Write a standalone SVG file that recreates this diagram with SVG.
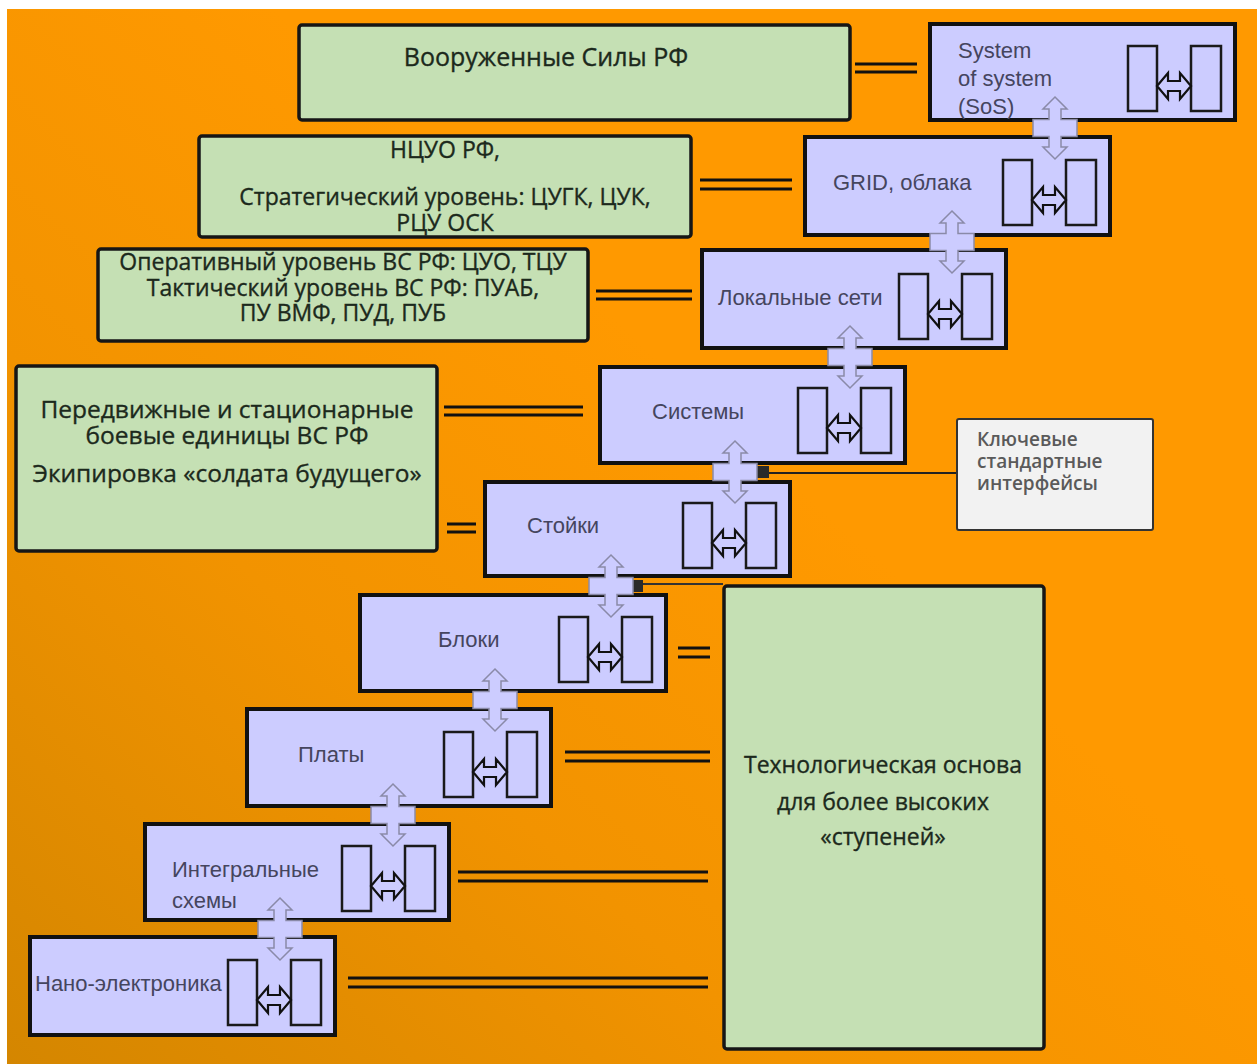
<svg xmlns="http://www.w3.org/2000/svg" xmlns:xlink="http://www.w3.org/1999/xlink" width="1257" height="1064" viewBox="0 0 1257 1064">
<style>
.pbox{fill:#CCCCFF;stroke:#111;stroke-width:4}
.inner{fill:#CCCCFF;stroke:#1a1a1a;stroke-width:2.5}
.iarrow{fill:#CCCCFF;stroke:#111;stroke-width:2.2;stroke-linejoin:miter}
.gbox{fill:#C5E0B4;stroke:#161616;stroke-width:3.5}
.ptxt{font-family:"Liberation Sans",Arial,sans-serif;font-size:22px;fill:#45455e}
.gtxt{font-family:"Open Sans","Noto Sans",sans-serif;fill:#1c291c;stroke:#1c291c;stroke-width:0.35;text-anchor:middle}
.ktxt{font-family:"Open Sans","Noto Sans",sans-serif;font-size:19px;font-weight:600;fill:#5a5a5a}
.dl{stroke:#111;stroke-width:3;fill:none}
.cross{fill:#CCCCFF;stroke:#8a8aa8;stroke-width:1.5}
</style>
<defs>
<linearGradient id="bg" gradientUnits="userSpaceOnUse" x1="0" y1="1064" x2="650" y2="350">
<stop offset="0" stop-color="#D48600"/>
<stop offset="0.55" stop-color="#F29300"/>
<stop offset="1" stop-color="#FF9900"/>
</linearGradient>
<path id="xa" class="cross" d="M0,-31 L12,-19 L6,-19 L6,-8.5 L22,-8.5 L22,8.5 L6,8.5 L6,19 L12,19 L0,31 L-12,19 L-6,19 L-6,8.5 L-22,8.5 L-22,-8.5 L-6,-8.5 L-6,-19 L-12,-19 Z"/>
<g id="mod">
<rect class="inner" x="-109" y="0" width="29" height="65"/>
<rect class="inner" x="-46" y="0" width="30" height="65"/>
<path class="iarrow" d="M-80,40 L-69,27 L-69,35 L-57,35 L-57,27 L-46,40 L-57,53 L-57,45 L-69,45 L-69,53 Z"/>
</g>
</defs>
<rect width="1257" height="1064" fill="#ffffff"/>
<rect x="7" y="9" width="1250" height="1055" fill="url(#bg)"/>

<g id="connectors">
<path class="dl" d="M855,64 H917 M855,72 H917"/>
<path class="dl" d="M700,180 H792 M700,189 H792"/>
<path class="dl" d="M596,291 H692 M596,299 H692"/>
<path class="dl" d="M444,407 H583 M444,415 H583"/>
<path class="dl" d="M447,524 H476 M447,532 H476"/>
<path class="dl" d="M678,648 H710 M678,657 H710"/>
<path class="dl" d="M565,752 H710 M565,761 H710"/>
<path class="dl" d="M458,872 H708 M458,881 H708"/>
<path class="dl" d="M348,978 H708 M348,987 H708"/>
<path d="M758,473 H957" stroke="#222" stroke-width="2"/>
<rect x="757" y="466" width="12" height="12" fill="#2a2a2a"/>
<path d="M640,584 H723" stroke="#333" stroke-width="2"/>
<rect x="633" y="580" width="10" height="12" fill="#2a2a2a"/>
</g>

<g id="n-vs">
<rect class="gbox" x="299" y="25" width="551" height="95" rx="3"/>
<text class="gtxt" x="546" y="66" font-size="25">Вооруженные Силы РФ</text>
</g>
<g id="n-ncuo">
<rect class="gbox" x="199" y="136" width="492" height="101" rx="3"/>
<text class="gtxt" x="445" y="158" font-size="23">НЦУО РФ,</text>
<text class="gtxt" x="445" y="205" font-size="23">Стратегический уровень: ЦУГК, ЦУК,</text>
<text class="gtxt" x="445" y="231" font-size="23">РЦУ ОСК</text>
</g>
<g id="n-oper">
<rect class="gbox" x="98" y="249" width="490" height="92" rx="3"/>
<text class="gtxt" x="343" y="270" font-size="23">Оперативный уровень ВС РФ: ЦУО, ТЦУ</text>
<text class="gtxt" x="343" y="296" font-size="23">Тактический уровень ВС РФ: ПУАБ,</text>
<text class="gtxt" x="343" y="321" font-size="23">ПУ ВМФ, ПУД, ПУБ</text>
</g>
<g id="n-units">
<rect class="gbox" x="16" y="366" width="421" height="185" rx="3"/>
<text class="gtxt" x="227" y="418" font-size="24.5">Передвижные и стационарные</text>
<text class="gtxt" x="227" y="444" font-size="24.5">боевые единицы ВС РФ</text>
<text class="gtxt" x="227" y="482" font-size="24.5">Экипировка «солдата будущего»</text>
</g>
<g id="n-tech">
<rect class="gbox" x="724" y="586" width="320" height="463" rx="3"/>
<text class="gtxt" x="883" y="773" font-size="23">Технологическая основа</text>
<text class="gtxt" x="883" y="810" font-size="23">для более высоких</text>
<text class="gtxt" x="883" y="845" font-size="23">«ступеней»</text>
</g>
<g id="n-key">
<rect x="957" y="419" width="196" height="111" fill="#F2F2F2" stroke="#333" stroke-width="2" rx="2"/>
<text class="ktxt" x="977" y="446">Ключевые</text>
<text class="ktxt" x="977" y="468">стандартные</text>
<text class="ktxt" x="977" y="490">интерфейсы</text>
</g>

<g id="n-sos">
<rect class="pbox" x="930" y="24" width="305" height="96"/>
<use xlink:href="#mod" transform="translate(1237,46)"/>
<text class="ptxt" x="958" y="58">System</text>
<text class="ptxt" x="958" y="86">of system</text>
<text class="ptxt" x="958" y="114">(SoS)</text>
</g>
<g id="n-grid">
<rect class="pbox" x="805" y="137" width="305" height="98"/>
<use xlink:href="#mod" transform="translate(1112,160)"/>
<text class="ptxt" x="833" y="190">GRID, облака</text>
</g>
<g id="n-local">
<rect class="pbox" x="702" y="250" width="304" height="98"/>
<use xlink:href="#mod" transform="translate(1008,274)"/>
<text class="ptxt" x="718" y="305">Локальные сети</text>
</g>
<g id="n-systems">
<rect class="pbox" x="600" y="367" width="305" height="96"/>
<use xlink:href="#mod" transform="translate(907,388)"/>
<text class="ptxt" x="652" y="419">Системы</text>
</g>
<g id="n-racks">
<rect class="pbox" x="485" y="482" width="305" height="94"/>
<use xlink:href="#mod" transform="translate(792,503)"/>
<text class="ptxt" x="527" y="533">Стойки</text>
</g>
<g id="n-blocks">
<rect class="pbox" x="360" y="595" width="306" height="96"/>
<use xlink:href="#mod" transform="translate(668,617)"/>
<text class="ptxt" x="438" y="647">Блоки</text>
</g>
<g id="n-boards">
<rect class="pbox" x="247" y="709" width="304" height="97"/>
<use xlink:href="#mod" transform="translate(553,732)"/>
<text class="ptxt" x="298" y="762">Платы</text>
</g>
<g id="n-ic">
<rect class="pbox" x="145" y="824" width="304" height="96"/>
<use xlink:href="#mod" transform="translate(451,846)"/>
<text class="ptxt" x="172" y="877">Интегральные</text>
<text class="ptxt" x="172" y="908">схемы</text>
</g>
<g id="n-nano">
<rect class="pbox" x="30" y="937" width="305" height="98"/>
<use xlink:href="#mod" transform="translate(337,960)"/>
<text class="ptxt" x="35" y="991">Нано-электроника</text>
</g>

<g id="interfaces">
<use xlink:href="#xa" transform="translate(1055,128)"/>
<use xlink:href="#xa" transform="translate(952,242)"/>
<use xlink:href="#xa" transform="translate(850,357)"/>
<use xlink:href="#xa" transform="translate(735,472)"/>
<use xlink:href="#xa" transform="translate(611,586)"/>
<use xlink:href="#xa" transform="translate(495,700)"/>
<use xlink:href="#xa" transform="translate(393,815)"/>
<use xlink:href="#xa" transform="translate(280,929)"/>
</g>
</svg>
